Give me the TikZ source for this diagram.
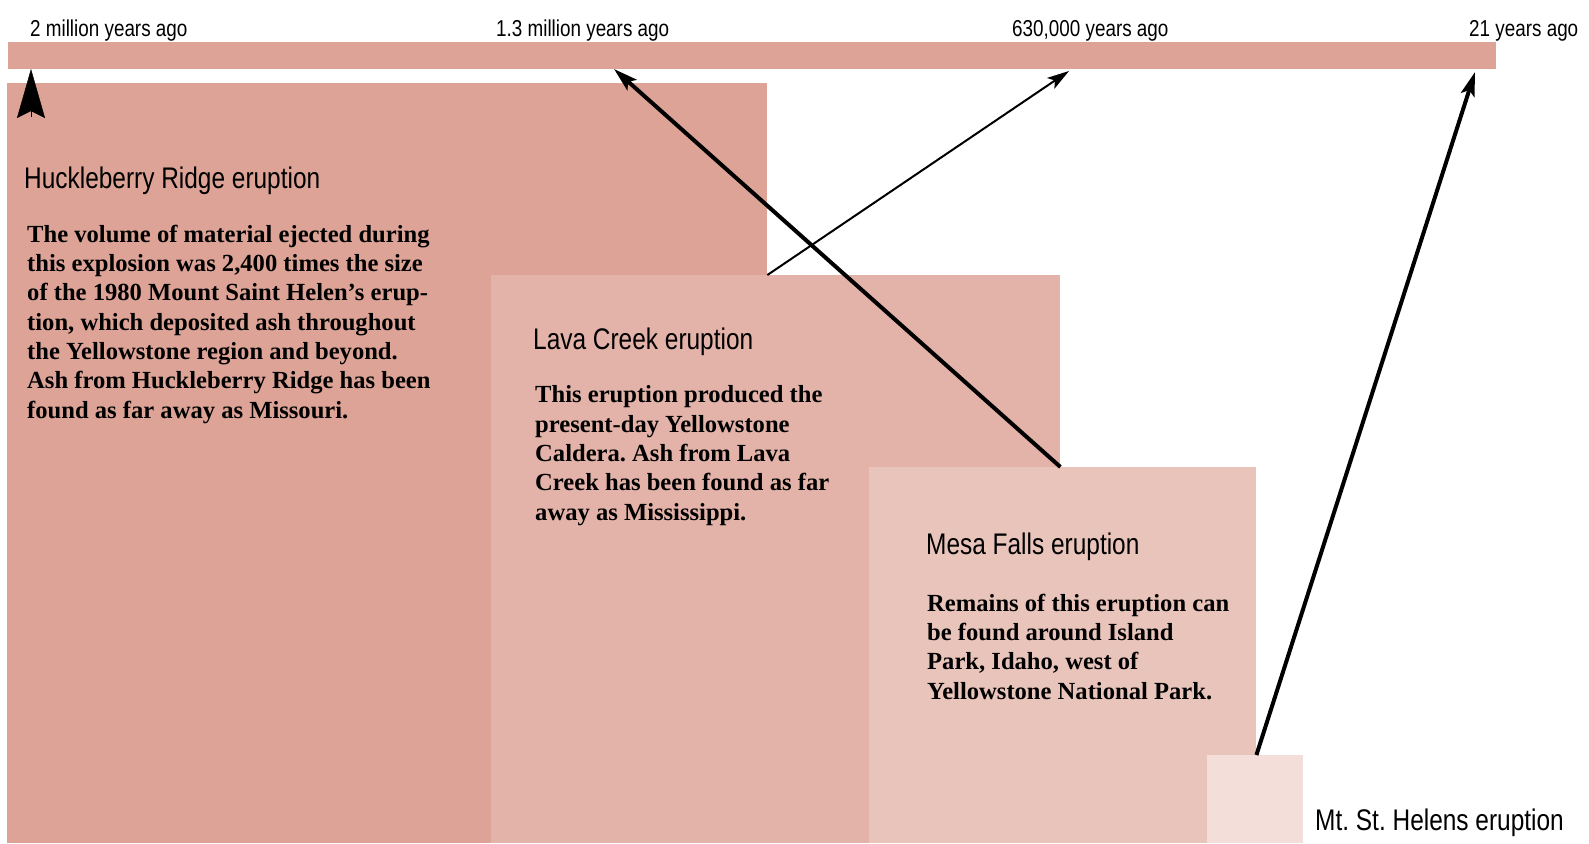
\documentclass[tikz,border=0pt]{standalone}
\usepackage{fontspec}
\setmainfont{Liberation Serif}
\newfontfamily\condsans[FakeStretch=0.82]{Liberation Sans}
\usetikzlibrary{arrows.meta}
\frenchspacing
\definecolor{huckred}{HTML}{DDA396}
\definecolor{lavared}{HTML}{E3B2A8}
\definecolor{mesared}{HTML}{E9C4BB}
\definecolor{helensred}{HTML}{F3DED9}
\tikzstyle{timebar} = [rectangle, anchor=north west, inner sep=0pt, fill=huckred]
\tikzstyle{erabox} = [rectangle, anchor=north west, inner sep=0pt]
\tikzstyle{timelabel} = [anchor=base west, inner sep=0pt, font=\condsans\fontsize{23}{27}\selectfont]
\tikzstyle{eventtitle} = [anchor=base west, inner sep=0pt, font=\condsans\fontsize{29.8}{34}\selectfont]
% multi-line text: base anchor sits on the last line
\tikzstyle{eventtext} = [anchor=base west, inner sep=0pt, align=left,
font=\fontsize{24.6}{29.3}\selectfont\bfseries]
\tikzstyle{arrow} = [line width=4pt, -{Stealth[length=24pt, width=14pt, inset=5pt]}]
\tikzstyle{thinarrow} = [line width=2pt, -{Stealth[length=22pt, width=13pt, inset=5pt]}]
\tikzstyle{bigtip} = [-{Stealth[length=49pt, width=28pt, inset=7pt]}]

\begin{document}
\begin{tikzpicture}[x=1pt, y=-1pt]
\useasboundingbox (0,0) rectangle (1589,843);

% ------------------------- timeline -------------------------
\node(bar)[timebar, minimum width=1488pt, minimum height=27pt] at (8,42) {};
\node(lbl2mil)[timelabel] at (30,37) {2 million years ago};
\node(lbl13mil)[timelabel] at (496,37) {1.3 million years ago};
\node(lbl630k)[timelabel] at (1012,37) {630,000 years ago};
\node(lbl21y)[timelabel] at (1469,37) {21 years ago};
\coordinate(t2mil) at (31,69);
\coordinate(t13mil) at (614,69);
\coordinate(t630k) at (1069,71);
\coordinate(t21y) at (1475,72);

% ------------------------- eruptions -------------------------
% ----- Huckleberry Ridge
\node(huck)[erabox, fill=huckred, minimum width=760pt, minimum height=760pt] at (7,83) {};
\node(hucktitle)[eventtitle] at (24,188) {Huckleberry Ridge eruption};
\node(hucktext)[eventtext] at (27,418) {The volume of material ejected during\\this explosion was 2,400 times the size\\of the 1980 Mount Saint Helen’s erup-\\tion, which deposited ash throughout\\the Yellowstone region and beyond.\\Ash from Huckleberry Ridge has been\\found as far away as Missouri.};
\coordinate(huckfoot) at (31,117);
% ----- Lava Creek
\node(lava)[erabox, fill=lavared, minimum width=569pt, minimum height=568pt] at (491,275) {};
\node(lavatitle)[eventtitle] at (533,349) {Lava Creek eruption};
\node(lavatext)[eventtext] at (535,520) {This eruption produced the\\present-day Yellowstone\\Caldera. Ash from Lava\\Creek has been found as far\\away as Mississippi.};
% ----- Mesa Falls
\node(mesa)[erabox, fill=mesared, minimum width=387pt, minimum height=376pt] at (869,467) {};
\node(mesatitle)[eventtitle] at (926,554) {Mesa Falls eruption};
\node(mesatext)[eventtext] at (927,699) {Remains of this eruption can\\be found around Island\\Park, Idaho, west of\\Yellowstone National Park.};
% ----- Mt. St. Helens
\node(helens)[erabox, fill=helensred, minimum width=96pt, minimum height=88pt] at (1207,755) {};
\node(helenstitle)[eventtitle] at (1315,830) {Mt. St. Helens eruption};

% ------------------------- connections -------------------------
\draw[bigtip](huckfoot)--(t2mil);
\draw[thinarrow](huck.east |- lava.north)--(t630k);
\draw[arrow](lava.east |- mesa.north)--(t13mil);
\draw[arrow](mesa.east |- helens.north)--(t21y);
\end{tikzpicture}
\end{document}
